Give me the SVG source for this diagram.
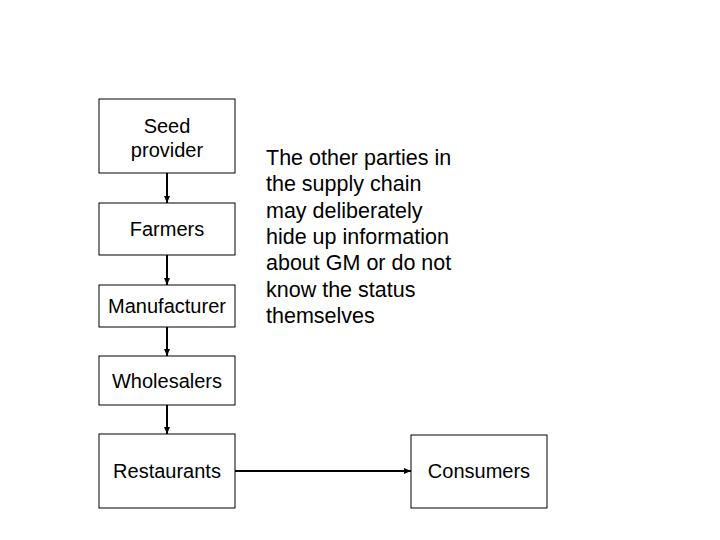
<svg xmlns="http://www.w3.org/2000/svg" width="720" height="540" viewBox="0 0 720 540">
<style>
.b{fill:#fff;stroke:#000;stroke-width:1}
.t{font-family:"Liberation Sans",Arial,sans-serif;font-size:20px;fill:#000;text-anchor:middle}
.p{font-family:"Liberation Sans",Arial,sans-serif;font-size:21.5px;fill:#000}
.c{stroke:#000;stroke-width:2;fill:none;marker-end:url(#a)}
</style>
<defs><marker id="a" markerWidth="8" markerHeight="8" refX="7" refY="4" orient="auto" markerUnits="userSpaceOnUse"><path d="M0,1 L7,4 L0,7 Z" fill="#000"/></marker></defs>
<rect width="720" height="540" fill="#fff"/>
<g id="connectors">
<line class="c" x1="167" y1="173" x2="167" y2="203"/>
<line class="c" x1="167" y1="255" x2="167" y2="285"/>
<line class="c" x1="167" y1="327" x2="167" y2="356"/>
<line class="c" x1="167" y1="405" x2="167" y2="434"/>
<line class="c" x1="235" y1="471" x2="411" y2="471"/>
</g>
<g id="seed"><rect class="b" x="99" y="99" width="136" height="74"/><text class="t" x="167" y="133">Seed</text><text class="t" x="167" y="157">provider</text></g>
<g id="farmers"><rect class="b" x="99" y="203" width="136" height="52"/><text class="t" x="167" y="236">Farmers</text></g>
<g id="manufacturer"><rect class="b" x="99" y="285" width="136" height="42"/><text class="t" x="167" y="313">Manufacturer</text></g>
<g id="wholesalers"><rect class="b" x="99" y="356" width="136" height="49"/><text class="t" x="167" y="388">Wholesalers</text></g>
<g id="restaurants"><rect class="b" x="99" y="434" width="136" height="74"/><text class="t" x="167" y="478">Restaurants</text></g>
<g id="consumers"><rect class="b" x="411" y="435" width="136" height="73"/><text class="t" x="479" y="478">Consumers</text></g>
<g id="note">
<text class="p" x="266" y="165">The other parties in</text>
<text class="p" x="266" y="191">the supply chain</text>
<text class="p" x="266" y="218">may deliberately</text>
<text class="p" x="266" y="244">hide up information</text>
<text class="p" x="266" y="270">about GM or do not</text>
<text class="p" x="266" y="297">know the status</text>
<text class="p" x="266" y="323">themselves</text>
</g>
</svg>
